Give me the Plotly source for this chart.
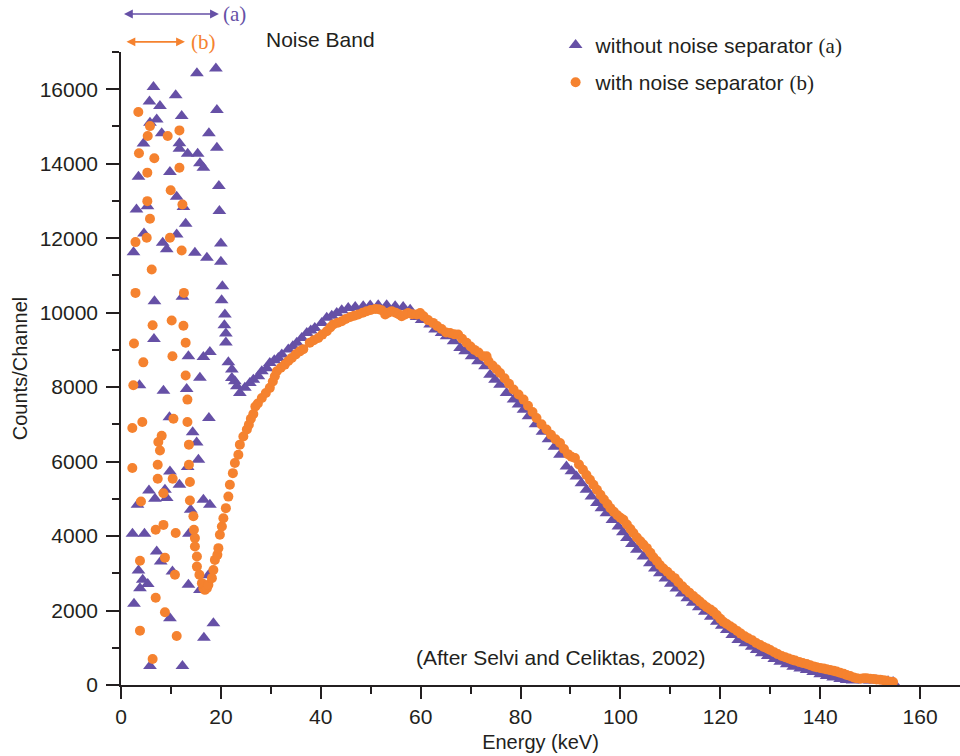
import plotly.graph_objects as go

# ---------------- data ----------------
# (a) without noise separator: noise-band scatter, then the spectrum
a_energy = [
    15.2, 19.0, 6.5, 5.7, 7.8, 10.95, 19.2, 7.15, 12.15, 5.8, 8.15, 17.6, 4.5, 11.7, 11.7,
    13.35, 15.35, 19.2, 15.8, 16.5, 3.5, 9.8, 19.6, 11.15, 3.1, 5.3, 12.5, 19.7, 12.95, 4.6,
    11.15, 2.5, 8.35, 9.15, 14.8, 17.2, 20.0, 20.0, 20.3, 6.7, 12.3, 20.15, 20.8, 20.7, 6.6,
    13.5, 16.5, 17.8, 15.8, 3.7, 8.5, 13.15, 9.7, 17.6, 14.35, 15.15, 15.5, 13.35, 9.8, 11.7,
    5.6, 8.8, 9.15, 6.8, 3.3, 13.95, 16.5, 17.8, 2.3, 4.7, 13.6, 7.15, 7.95, 3.5, 10.3,
    4.35, 5.35, 3.8, 13.5, 2.6, 9.8, 18.5, 16.6, 5.8, 12.3, 15.8, 17.5,
    21.0, 21.0, 21.5, 22.2, 22.2, 22.8, 23.2, 23.8, 24.8, 25.8, 26.5, 27.5, 28.2, 29.2, 29.8,
    30.7, 31.5, 32.2, 33.5, 34.4, 35.2, 36.2, 37.2, 38.0, 38.8, 40.2, 41.2, 42.2, 43.2, 44.2,
    45.5, 46.9, 48.5, 49.9, 51.5, 53.2, 54.9, 56.5, 57.9, 59.2, 60.2, 61.9, 62.9, 64.2, 65.2,
    66.6, 67.9, 68.9, 70.2, 71.5, 72.9, 73.9, 74.9, 75.9, 77.2, 78.6, 79.6, 80.6, 81.6, 83.0,
    84.4, 85.6, 86.8, 87.9, 89.2, 90.2, 91.2, 92.2, 93.2, 94.2, 95.3, 96.2, 97.2, 98.4, 99.6,
    100.5, 101.3, 102.3, 103.3, 104.6, 105.9, 106.9, 107.9, 109.0, 110.1, 111.2, 112.3, 113.4, 114.5, 115.7,
    116.9, 118.1, 119.3, 120.3, 121.3, 122.4, 123.6, 125.0, 126.3, 127.3, 128.3, 129.5, 130.8, 132.0, 133.3,
    134.6, 136.0, 137.3, 138.6, 140.0, 141.3, 142.6, 144.0, 145.3, 146.5, 147.6, 148.8, 150.0, 151.2, 152.4,
    153.6, 154.6,
]
a_counts = [
    16430, 16555, 16060, 15670, 15550, 15840, 15440, 15190, 15280, 15100, 14815, 14815, 14540, 14550, 14400,
    14270, 14270, 14430, 14010, 13890, 13650, 13775, 13400, 13110, 12770, 12860, 12835, 12730, 12390, 12125,
    12100, 11625, 11875, 11700, 11610, 11475, 11860, 11365, 10710, 10307, 10425, 10333, 9950, 9660, 9295,
    8830, 8810, 8945, 8250, 8050, 7900, 7950, 7190, 7170, 6785, 6515, 6050, 5855, 5735, 5380,
    5225, 5245, 5020, 5000, 4840, 4705, 4975, 4840, 4060, 4060, 4060, 3585, 3315, 3075, 3050,
    2825, 2710, 2600, 2690, 2180, 1795, 1660, 1270, 510, 510, 2550, 2950,
    9440, 9200, 8665, 8470, 8245, 8155, 8020, 7845, 7980, 8110, 8200, 8290, 8425, 8510, 8650,
    8720, 8785, 8875, 9010, 9100, 9190, 9320, 9455, 9520, 9590, 9725, 9860, 9920, 9990, 10065,
    10125, 10150, 10170, 10190, 10200, 10200, 10170, 10150, 10080, 9885, 9800, 9680, 9545, 9455, 9365,
    9230, 9050, 8960, 8830, 8695, 8560, 8335, 8200, 8065, 7845, 7665, 7530, 7395, 7215, 7000,
    6800, 6600, 6400, 6185, 5870, 5740, 5600, 5420, 5245, 5060, 4885, 4750, 4615, 4430, 4255,
    4100, 3945, 3790, 3630, 3450, 3270, 3130, 3000, 2860, 2720, 2590, 2460, 2330, 2210, 2090,
    1970, 1830, 1700, 1590, 1480, 1340, 1210, 1120, 1030, 940, 850, 780, 700, 625, 560,
    490, 440, 400, 350, 290, 240, 200, 160, 135, 120, 140, 130, 120, 130, 110,
    100, 80,
]

# (b) with noise separator: noise-band scatter, then the spectrum
b_energy = [
    3.47, 5.8, 5.35, 9.35, 11.7, 3.6, 6.67, 11.7, 5.27, 9.95, 12.3, 5.27, 5.8, 2.9, 5.15,
    9.8, 12.15, 6.15, 2.9, 12.6, 10.15, 6.33, 12.5, 2.6, 12.95, 10.3, 4.47, 12.95, 2.47, 13.3,
    2.27, 4.27, 10.5, 13.3, 8.15, 7.47, 7.8, 13.6, 2.27, 7.35, 13.6, 7.35, 10.35, 13.8, 8.5,
    4.0, 13.8, 8.5, 6.95, 10.95, 3.8, 8.8, 10.8, 6.95, 8.8, 11.15, 3.8, 6.33,
    14.5, 14.6, 14.8, 14.8, 15.2, 15.2, 15.7, 16.2, 16.5, 16.8, 17.2, 17.5, 18.2, 18.5, 18.8,
    19.3, 19.5, 19.8, 20.2, 20.5, 21.0, 21.5, 21.8, 22.4, 22.8, 23.5, 23.8, 24.5, 25.2, 25.6,
    26.0, 26.5, 26.9, 27.4, 28.2, 29.0, 29.8, 30.4, 30.8, 31.2, 32.0, 32.8, 33.5, 34.2, 35.0,
    35.8, 36.5, 37.8, 38.6, 39.5, 40.3, 41.2, 41.9, 42.5, 43.4, 44.2, 45.0, 45.9, 46.7, 47.5,
    48.4, 49.2, 50.0, 50.9, 51.6, 52.2, 52.9, 53.5, 54.2, 55.0, 55.6, 56.2, 56.9, 57.5, 58.3,
    59.2, 59.9, 60.6, 61.5, 62.5, 63.3, 64.2, 65.1, 65.9, 66.7, 67.5, 68.3, 69.2, 70.0, 70.8,
    71.6, 72.5, 73.2, 73.6, 74.4, 75.2, 75.9, 76.8, 77.7, 78.6, 79.6, 80.6, 81.5, 82.4, 83.2,
    84.2, 85.2, 86.1, 87.0, 87.9, 88.7, 89.5, 90.2, 90.9, 91.7, 92.5, 93.2, 93.9, 94.6, 95.3,
    96.0, 96.7, 97.4, 98.0, 98.7, 99.4, 100.0, 100.6, 101.3, 102.0, 102.6, 103.3, 104.0, 104.6, 105.3,
    106.0, 106.6, 107.3, 107.9, 108.6, 109.4, 110.1, 110.9, 111.6, 112.4, 113.1, 113.8, 114.6, 115.3, 115.9,
    116.6, 117.3, 118.0, 118.6, 119.3, 120.0, 120.6, 121.3, 122.0, 122.6, 123.4, 124.1, 124.9, 125.6, 126.4,
    127.2, 128.0, 128.7, 129.4, 130.0, 130.8, 131.5, 132.3, 133.0, 133.7, 134.4, 135.0, 135.8, 136.5, 137.3,
    138.0, 138.7, 139.3, 140.0, 140.7, 141.3, 142.0, 142.7, 143.3, 144.0, 144.7, 145.3, 146.0, 146.7, 147.3,
    148.0, 148.7, 149.3, 150.0, 150.7, 151.3, 152.0, 152.7, 153.3, 154.1, 154.6,
]
b_counts = [
    15390, 15010, 14745, 14745, 14895, 14280, 14145, 13890, 13760, 13285, 12905, 12995, 12520, 11895, 12010,
    12010, 11670, 11160, 10530, 10530, 9790, 9660, 9650, 9170, 9190, 8830, 8665, 8310, 8050, 7665,
    6900, 7065, 7150, 7065, 6695, 6525, 6300, 6455, 5830, 5915, 5915, 5540, 5540, 5450, 5150,
    4930, 4955, 4300, 4170, 4080, 3335, 3420, 2960, 2345, 1955, 1315, 1460, 700,
    4530, 4170, 3945, 3720, 3450, 3180, 2960, 2735, 2600, 2555, 2600, 2690, 2870, 3090, 3360,
    3495, 3675, 4035, 4255, 4480, 4750, 5060, 5380, 5690, 5960, 6185, 6455, 6675, 6860, 6990,
    7150, 7280, 7480, 7560, 7710, 7840, 7980, 8150, 8290, 8425, 8520, 8605, 8700, 8785, 8880,
    8960, 9020, 9190, 9260, 9320, 9410, 9500, 9600, 9680, 9730, 9770, 9830, 9885, 9920, 9950,
    10000, 10040, 10070, 10100, 10090, 10065, 9950, 10000, 10040, 10000, 9960, 9905, 9950, 9990, 9960,
    9950, 9990, 9900, 9800, 9725, 9640, 9560, 9470, 9455, 9420, 9410, 9300, 9190, 9090, 9000,
    8930, 8830, 8830, 8695, 8580, 8480, 8380, 8240, 8090, 7935, 7800, 7665, 7500, 7330, 7170,
    7000, 6860, 6720, 6600, 6500, 6340, 6200, 6130, 6095, 5920, 5780, 5640, 5510, 5380, 5245,
    5110, 4980, 4860, 4750, 4650, 4560, 4490, 4435, 4310, 4190, 4080, 3960, 3860, 3770, 3675,
    3550, 3430, 3330, 3225, 3130, 3040, 2950, 2870, 2760, 2650, 2560, 2480, 2390, 2310, 2240,
    2160, 2090, 2030, 1970, 1880, 1780, 1700, 1640, 1580, 1525, 1450, 1380, 1310, 1255, 1200,
    1130, 1075, 1020, 980, 940, 880, 830, 780, 745, 710, 680, 655, 620, 590, 565,
    530, 500, 475, 455, 440, 420, 400, 380, 360, 330, 300, 270, 240, 200, 180,
    170, 180, 180, 170, 160, 150, 140, 130, 115, 90, 80,
]

x_ticks = [0, 20, 40, 60, 80, 100, 120, 140, 160]
y_ticks = [0, 2000, 4000, 6000, 8000, 10000, 12000, 14000, 16000]

PURPLE = "#6650a6"
ORANGE = "#f5822f"
INK = "#231f20"
SANS = "Liberation Sans, Arial, sans-serif"
SERIF = "Liberation Serif, Times New Roman, serif"
FS = 21

fig = go.Figure()
fig.add_trace(go.Scatter(
    x=a_energy, y=a_counts, mode="markers", legendgroup="a",
    name='without noise separator <span style="font-family:Liberation Serif">(a)</span>',
    marker=dict(symbol="triangle-up", size=12, color=PURPLE, line=dict(width=0)),
    cliponaxis=False,
))
fig.add_trace(go.Scatter(
    x=b_energy, y=b_counts, mode="markers", legendgroup="b",
    name='with noise separator <span style="font-family:Liberation Serif">(b)</span>',
    marker=dict(symbol="circle", size=10, color=ORANGE, line=dict(width=0)),
    cliponaxis=False,
))

annotations = [
    # double-headed arrows marking the noise band widths
    dict(x=19.6, y=1.06, xref="x", yref="paper", ax=0.3, ay=0, axref="x", ayref="pixel",
         text="", showarrow=True, arrowside="end+start", arrowhead=2, arrowsize=1.1,
         arrowwidth=1.6, arrowcolor=PURPLE),
    dict(x=20.0, y=1.06, xref="x", yref="paper", text="(a)", showarrow=False,
         xanchor="left", yanchor="middle", font=dict(family=SERIF, size=FS, color=PURPLE)),
    dict(x=12.8, y=1.016, xref="x", yref="paper", ax=0.8, ay=0, axref="x", ayref="pixel",
         text="", showarrow=True, arrowside="end+start", arrowhead=2, arrowsize=1.1,
         arrowwidth=1.6, arrowcolor=ORANGE),
    dict(x=13.6, y=1.016, xref="x", yref="paper", text="(b)", showarrow=False,
         xanchor="left", yanchor="middle", font=dict(family=SERIF, size=FS, color=ORANGE)),
    dict(x=40.0, y=1.019, xref="x", yref="paper", text="Noise Band", showarrow=False,
         yanchor="middle", font=dict(family=SANS, size=FS, color=INK)),
    dict(x=88.0, y=750, xref="x", yref="y", text="(After Selvi and Celiktas, 2002)",
         showarrow=False, yanchor="middle", font=dict(family=SANS, size=FS, color=INK)),
]

axis_common = dict(
    showline=True, linecolor=INK, linewidth=1.5, ticks="outside", tickcolor=INK,
    tickwidth=1.5, showgrid=False, zeroline=False,
    tickfont=dict(family=SANS, size=FS, color=INK),
)

fig.update_layout(
    width=960, height=756,
    margin=dict(l=121, r=0, t=52, b=71),
    paper_bgcolor="white", plot_bgcolor="white",
    font=dict(family=SANS, size=FS, color=INK),
    showlegend=True,
    legend=dict(x=0.518, y=1.043, xanchor="left", yanchor="top",
                bgcolor="rgba(0,0,0,0)", font=dict(family=SANS, size=FS, color=INK),
                tracegroupgap=7, itemsizing="trace"),
    annotations=annotations,
    xaxis=dict(range=[0, 168], tickvals=x_ticks, ticklen=12,
               minor=dict(dtick=10, ticklen=7, ticks="outside", tickcolor=INK, tickwidth=1.5),
               title=dict(text="Energy (keV)", standoff=8,
                          font=dict(family=SANS, size=FS - 1, color=INK)),
               **axis_common),
    yaxis=dict(range=[0, 17000], tickvals=y_ticks, tickformat="d", ticklen=13,
               ticklabelstandoff=4,
               minor=dict(dtick=1000, ticklen=7, ticks="outside", tickcolor=INK, tickwidth=1.5),
               title=dict(text="Counts/Channel", standoff=7,
                          font=dict(family=SANS, size=FS - 1, color=INK)),
               **axis_common),
)

fig.write_html("out.html")
